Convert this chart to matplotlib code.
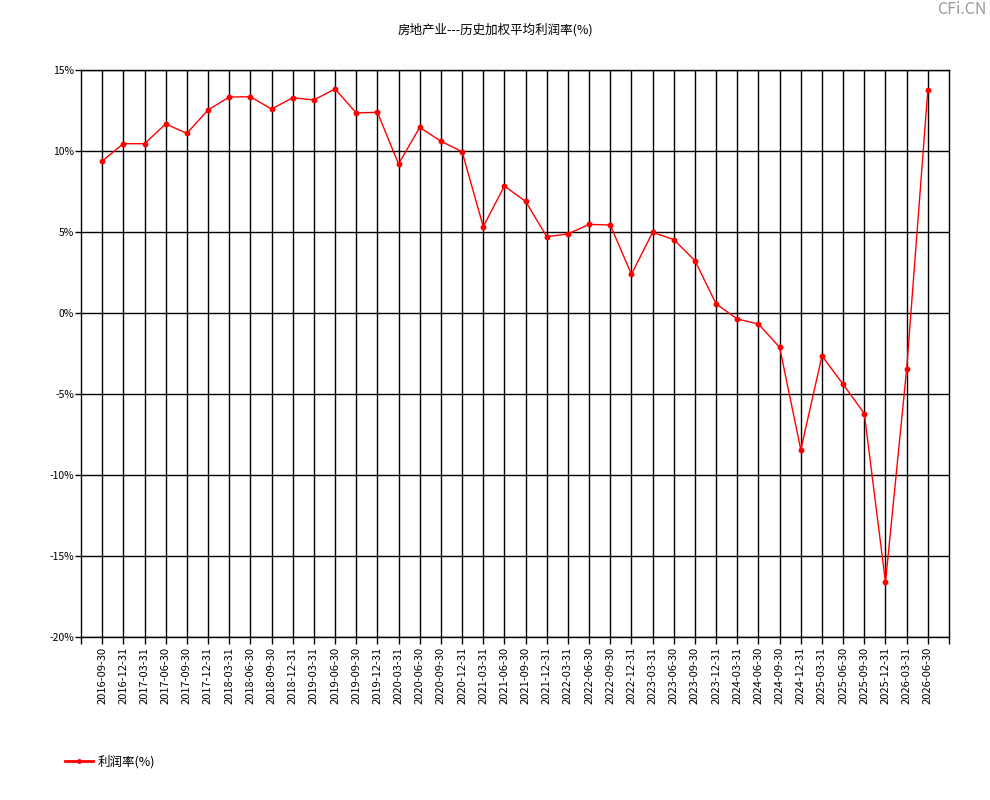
import matplotlib
matplotlib.use("Agg")
import matplotlib.pyplot as plt
from matplotlib.ticker import FixedLocator
from matplotlib.lines import Line2D

plt.rcParams['font.family'] = ['Noto Sans CJK SC', 'DejaVu Sans']

dates = ["2016-09-30", "2016-12-31", "2017-03-31", "2017-06-30", "2017-09-30", "2017-12-31",
         "2018-03-31", "2018-06-30", "2018-09-30", "2018-12-31", "2019-03-31", "2019-06-30",
         "2019-09-30", "2019-12-31", "2020-03-31", "2020-06-30", "2020-09-30", "2020-12-31",
         "2021-03-31", "2021-06-30", "2021-09-30", "2021-12-31", "2022-03-31", "2022-06-30",
         "2022-09-30", "2022-12-31", "2023-03-31", "2023-06-30", "2023-09-30", "2023-12-31",
         "2024-03-31", "2024-06-30", "2024-09-30", "2024-12-31", "2025-03-31", "2025-06-30",
         "2025-09-30", "2025-12-31", "2026-03-31", "2026-06-30"]
profit_rate = [9.38, 10.45, 10.45, 11.67, 11.09, 12.53,
               13.33, 13.35, 12.59, 13.29, 13.15, 13.83,
               12.35, 12.39, 9.20, 11.46, 10.60, 9.96,
               5.33, 7.84, 6.89, 4.71, 4.88, 5.47,
               5.43, 2.39, 4.98, 4.53, 3.23, 0.56,
               -0.37, -0.68, -2.12, -8.44, -2.65, -4.40,
               -6.21, -16.62, -3.46, 13.75]
y_ticks = [15, 10, 5, 0, -5, -10, -15, -20]
y_labels = ["15%", "10%", "5%", "0%", "-5%", "-10%", "-15%", "-20%"]

W, H = 990, 800
fig = plt.figure(figsize=(W / 100, H / 100), dpi=100)
ax = fig.add_axes([81 / W, (H - 637) / H, (949 - 81) / W, (637 - 70) / H])

x = list(range(len(dates)))
ax.plot(x, profit_rate, color='#ff0000', linewidth=1, marker='o', markersize=3.2, zorder=3)

ax.set_xlim(-1, len(dates))
ax.set_ylim(-20, 15)
ax.set_xticks(x)
ax.set_xticklabels(dates, rotation=90, fontsize=8)
ax.xaxis.set_minor_locator(FixedLocator([-1, len(dates)]))
ax.set_yticks(y_ticks)
ax.set_yticklabels(y_labels, fontsize=7.5)
ax.tick_params(axis='x', which='both', direction='out', length=5, width=1, pad=2, color='black')
ax.tick_params(axis='y', direction='out', length=4, width=1, pad=1)
ax.grid(True, color='black', linewidth=1)
for s in ax.spines.values():
    s.set_color('black')
    s.set_linewidth(1)

fig.text(495 / W, 1 - 30 / H, '房地产业---历史加权平均利润率(%)', ha='center', va='center', fontsize=9)
fig.text(986 / W, 1 - 10 / H, 'CFi.CN', ha='right', va='center', fontsize=11.5, color='#999999')

handle = Line2D([], [], color='#ff0000', linewidth=2, marker='o', markersize=2.5)
fig.legend([handle], ['利润率(%)'], loc='center left', bbox_to_anchor=(54 / W, 1 - 762 / H),
           frameon=False, fontsize=9, handlelength=2.2, handletextpad=0.4)

fig.savefig('out.png', dpi=100)
